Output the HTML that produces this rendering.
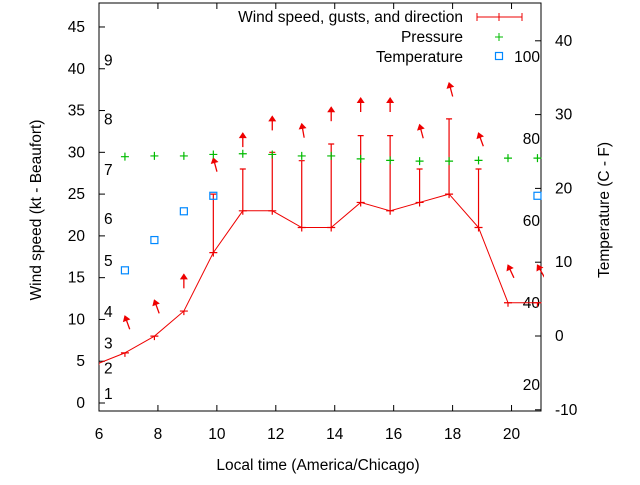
<!DOCTYPE html>
<html><head><meta charset="utf-8"><style>
body{margin:0;background:#fff}
text{font-family:"Liberation Sans",sans-serif;font-size:15.5px;fill:#000}
</style></head><body>
<svg id="chart" width="640" height="480" viewBox="0 0 640 480" xmlns="http://www.w3.org/2000/svg">
<g id="axes"></g>
<g id="marks"></g>
<text transform="translate(41,210) rotate(-90)" text-anchor="middle">Wind speed (kt - Beaufort)</text>
<text transform="translate(609,210) rotate(-90)" text-anchor="middle">Temperature (C - F)</text>
<text x="318" y="470" text-anchor="middle">Local time (America/Chicago)</text>
<g>
<text x="463" y="22" text-anchor="end">Wind speed, gusts, and direction</text>
<text x="463" y="42" text-anchor="end">Pressure</text>
<text x="463" y="62" text-anchor="end">Temperature</text>
<path d="M477,17H522M477,13V21M522,13V21M499,13V21" stroke="#e00" stroke-width="1" fill="none"/>
<path d="M499,33V41M495,37H503" stroke="#0b0" stroke-width="1"/>
<rect x="495.5" y="52.5" width="7" height="7" fill="none" stroke="#08f" stroke-width="1.2"/>
</g>
</svg>
<script>
const hours=[5.88,6.88,7.88,8.88,9.88,10.88,11.88,12.88,13.88,14.88,15.88,16.88,17.88,18.88,19.88,20.88];
const speed=[4.6,6,8,11,18,23,23,21,21,24,23,24,25,21,12,12];
const gust=[4.6,6,8,11,25,28,30,29,31,32,32,28,34,28,12,12];
const arrowPos=[null,10.4,12.3,15.4,29.3,32.3,34.3,33.4,35.4,36.5,36.5,33.3,38.3,32.3,16.5,16.5];
const arrowAngle=[0,-20,-20,0,-15,0,0,-10,0,0,0,-15,-15,-20,-25,-30];
const pressure=[null,24.3,24.4,24.4,24.6,24.7,24.6,24.4,24.4,24.0,23.8,23.7,23.7,23.8,24.1,24.1];
const tempHours=[6.88,7.88,8.88,9.88,20.88];
const tempC=[8.9,13,16.9,19,19];
const xTicks=[6,8,10,12,14,16,18,20];
const yTicks=[0,5,10,15,20,25,30,35,40,45];
const y2Ticks=[-10,0,10,20,30,40];
const beaufortLabels=["1","2","3","4","5","6","7","8","9"];
const beaufortKt=[1.1,4.1,7.1,10.9,17,22,27.9,33.9,41];
const fLabels=["20","40","60","80","100"];
const fVals=[20,40,60,80,100];

const L=99,R=541,T=3,B=411;
const X=h=>L+(h-6)*(R-L)/15;
const Y=v=>403-v*8.356;
const Y2=c=>336-c*7.38;
const NS="http://www.w3.org/2000/svg";
function mk(tag,attrs,parent,txt){const e=document.createElementNS(NS,tag);for(const k in attrs)e.setAttribute(k,attrs[k]);if(txt!==undefined)e.textContent=txt;parent.appendChild(e);return e;}
const ax=document.getElementById('axes'),mg=document.getElementById('marks');
let r=mk('rect',{x:L,y:T,width:R-L,height:B-T,fill:'none',stroke:'#000','stroke-width':1},ax);


xTicks.forEach(h=>{const x=X(h);mk('path',{d:`M${x},${B}v-6M${x},${T}v6`,stroke:'#000'},ax);
let t=mk('text',{x:x,y:439,'text-anchor':'middle'},ax,String(h));

});
yTicks.forEach(v=>{const y=Y(v);mk('path',{d:`M${L},${y}h6`,stroke:'#000'},ax);
let t=mk('text',{x:85,y:y+5,'text-anchor':'end'},ax,String(v));

});
y2Ticks.forEach(v=>{const y=Y2(v);mk('path',{d:`M${R},${y}h-6`,stroke:'#000'},ax);
let t=mk('text',{x:555,y:y+5},ax,String(v));

});
beaufortLabels.forEach((s,i)=>{let t=mk('text',{x:104,y:Y(beaufortKt[i])+5},ax,s);

});
fLabels.forEach((s,i)=>{let t=mk('text',{x:540,y:Y2((fVals[i]-32)*5/9)+5,'text-anchor':'end'},ax,s);

});
const cp=mk('clipPath',{id:'clip'},mg);mk('rect',{x:L,y:T,width:R-L+3,height:B-T},cp);
const g=mk('g',{'clip-path':'url(#clip)'},mg);
let d=hours.map((h,i)=>(i?'L':'M')+X(h)+','+Y(speed[i])).join('');
let p=mk('path',{d:d,fill:'none',stroke:'#e00','stroke-width':1},g);


hours.forEach((h,i)=>{const x=X(h),y=Y(speed[i]),gy=Y(gust[i]);
let e=mk('path',{d:`M${x},${y+4}V${gy}M${x-3},${gy}h6M${x-4},${y}h8`,stroke:'#e00','stroke-width':1.2,fill:'none'},g);


if(arrowPos[i]!==null){const ay=Y(arrowPos[i]);
let a=mk('g',{transform:`translate(${x},${ay}) rotate(${arrowAngle[i]})`},g);


mk('path',{d:'M0,0V14',stroke:'#e00','stroke-width':1.3},a);mk('path',{d:'M0,-1L4,5H-4Z',fill:'#e00'},a);}
if(pressure[i]!==null){const py=Y2(pressure[i]);
let q=mk('path',{d:`M${x-4},${py}h8M${x},${py-4}v8`,stroke:'#0b0','stroke-width':1.2},g);

}});
tempHours.forEach((h,i)=>{let s=mk('rect',{x:X(h)-3.5,y:Y2(tempC[i])-3.5,width:7,height:7,fill:'none',stroke:'#08f','stroke-width':1.2},g);

});
</script>
</body></html>
